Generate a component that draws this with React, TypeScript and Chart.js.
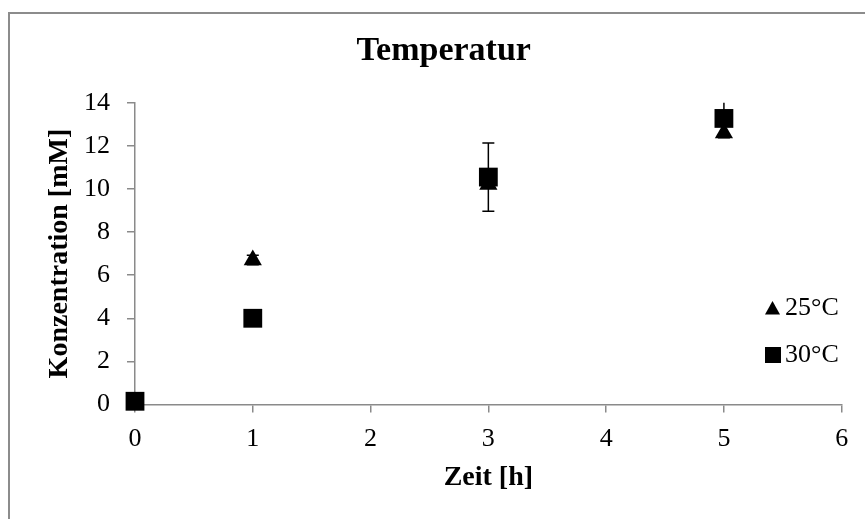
import React, { useEffect, useRef } from 'react';
import { Chart, registerables } from 'chart.js';

Chart.register(...registerables);

// ---- data ----
const timePoints = [0, 1, 3, 5];
const series25 = [0.1, 6.7, 10.2, 12.6];
const series30 = [0.15, 4.0, 10.55, 13.27];
const errors25 = [0, 0.22, 0, 0];
const errors30 = [0, 0, 1.58, 0.9];
const seriesLabels = ['25°C', '30°C'];
const chartTitle = 'Temperatur';
const xTitle = 'Zeit [h]';
const yTitle = 'Konzentration [mM]';
const xRange = [0, 6];
const yRange = [0, 14];

const FONT = "'Liberation Serif', 'Times New Roman', serif";
const AXIS_GRAY = '#8a8a8a';

const backgroundPlugin = {
  id: 'bgBorder',
  beforeDraw(chart: any) {
    const ctx = chart.ctx;
    ctx.save();
    ctx.fillStyle = '#ffffff';
    ctx.fillRect(0, 0, chart.width, chart.height);
    ctx.strokeStyle = '#8c8c8c';
    ctx.lineWidth = 2;
    ctx.strokeRect(9, 13, chart.width + 20, chart.height + 20);
    ctx.restore();
  },
};

const errorBarPlugin = {
  id: 'errorBars',
  afterDatasetsDraw(chart: any) {
    const ctx = chart.ctx;
    const xs = chart.scales.x;
    const ys = chart.scales.y;
    const area = chart.chartArea;
    ctx.save();
    ctx.beginPath();
    ctx.rect(area.left, area.top, area.right - area.left, area.bottom - area.top);
    ctx.clip();
    ctx.strokeStyle = '#000000';
    ctx.lineWidth = 1.5;
    chart.data.datasets.forEach((ds: any) => {
      const errs: number[] = ds.errors || [];
      ds.data.forEach((pt: any, i: number) => {
        const e = errs[i];
        if (!e) return;
        const px = xs.getPixelForValue(pt.x);
        const top = ys.getPixelForValue(pt.y + e);
        const bot = ys.getPixelForValue(pt.y - e);
        ctx.beginPath();
        ctx.moveTo(px, top);
        ctx.lineTo(px, bot);
        ctx.moveTo(px - 6, top);
        ctx.lineTo(px + 6, top);
        ctx.moveTo(px - 6, bot);
        ctx.lineTo(px + 6, bot);
        ctx.stroke();
      });
    });
    ctx.restore();
  },
};

const legendPlugin = {
  id: 'customLegend',
  afterDraw(chart: any) {
    const ctx = chart.ctx;
    ctx.save();
    const x0 = 765;
    const rows = [308, 355];
    chart.data.datasets.forEach((ds: any, i: number) => {
      const cy = rows[i];
      ctx.fillStyle = '#000000';
      ctx.beginPath();
      if (ds.pointStyle === 'triangle') {
        ctx.moveTo(x0 + 7.5, cy - 7);
        ctx.lineTo(x0 + 15, cy + 6.5);
        ctx.lineTo(x0, cy + 6.5);
        ctx.closePath();
      } else {
        ctx.rect(x0, cy - 8, 16, 16);
      }
      ctx.fill();
      ctx.font = `26px ${FONT}`;
      ctx.textBaseline = 'middle';
      ctx.textAlign = 'left';
      ctx.fillText(ds.label, x0 + 20, cy);
    });
    ctx.restore();
  },
};

export default function App() {
  const canvasRef = useRef<HTMLCanvasElement | null>(null);

  useEffect(() => {
    if (!canvasRef.current) return;
    const toPoints = (vals: number[]) => timePoints.map((t, i) => ({ x: t, y: vals[i] }));
    const chart = new Chart(canvasRef.current, {
      type: 'scatter',
      data: {
        datasets: [
          {
            label: seriesLabels[0],
            data: toPoints(series25),
            errors: errors25,
            pointStyle: 'triangle',
            pointRadius: 10.5,
            pointHoverRadius: 10.5,
            backgroundColor: '#000000',
            borderColor: '#000000',
            borderWidth: 0,
            clip: false,
            order: 1,
          } as any,
          {
            label: seriesLabels[1],
            data: toPoints(series30),
            errors: errors30,
            pointStyle: 'rect',
            pointRadius: 13.3,
            pointHoverRadius: 13.3,
            backgroundColor: '#000000',
            borderColor: '#000000',
            borderWidth: 0,
            clip: false,
            order: 0,
          } as any,
        ],
      },
      options: {
        animation: false,
        responsive: false,
        devicePixelRatio: 1,
        events: [],
        layout: { padding: { left: 45.7, right: 23.3, top: 0, bottom: 0 } },
        plugins: {
          legend: { display: false },
          tooltip: { enabled: false },
          title: {
            display: true,
            text: chartTitle,
            color: '#000000',
            font: { family: FONT, size: 34, weight: 'bold', lineHeight: 1.2 },
            padding: { top: 30.6, bottom: 31.3 },
          },
        },
        scales: {
          x: {
            type: 'linear',
            min: xRange[0],
            max: xRange[1],
            afterFit: (s: any) => { s.height = 114.5; },
            ticks: {
              stepSize: 1,
              color: '#000000',
              padding: 11,
              font: { family: FONT, size: 26 },
            },
            grid: {
              display: true,
              drawOnChartArea: false,
              drawTicks: true,
              tickLength: 8,
              color: AXIS_GRAY,
              lineWidth: 1.5,
            },
            border: { display: true, color: AXIS_GRAY, width: 1.5 },
            title: {
              display: true,
              text: xTitle,
              color: '#000000',
              font: { family: FONT, size: 28, weight: 'bold', lineHeight: 1.2 },
              padding: { top: 0, bottom: 24.2 },
            },
          },
          y: {
            type: 'linear',
            min: yRange[0],
            max: yRange[1],
            afterFit: (s: any) => { s.width = 89.3; },
            ticks: {
              stepSize: 2,
              color: '#000000',
              padding: 17,
              font: { family: FONT, size: 26 },
            },
            grid: {
              display: true,
              drawOnChartArea: false,
              drawTicks: true,
              tickLength: 8,
              color: AXIS_GRAY,
              lineWidth: 1.5,
            },
            border: { display: true, color: AXIS_GRAY, width: 1.5 },
            title: {
              display: true,
              text: yTitle,
              color: '#000000',
              font: { family: FONT, size: 28, weight: 'bold', lineHeight: 1 },
              padding: { top: 0, bottom: 0 },
            },
          },
        },
      } as any,
      plugins: [backgroundPlugin, errorBarPlugin, legendPlugin],
    });
    return () => chart.destroy();
  }, []);

  return (
    <div style={{ position: 'absolute', left: 0, top: 0, width: 865, height: 519 }}>
      <canvas ref={canvasRef} width={865} height={519} style={{ display: 'block' }} />
    </div>
  );
}
